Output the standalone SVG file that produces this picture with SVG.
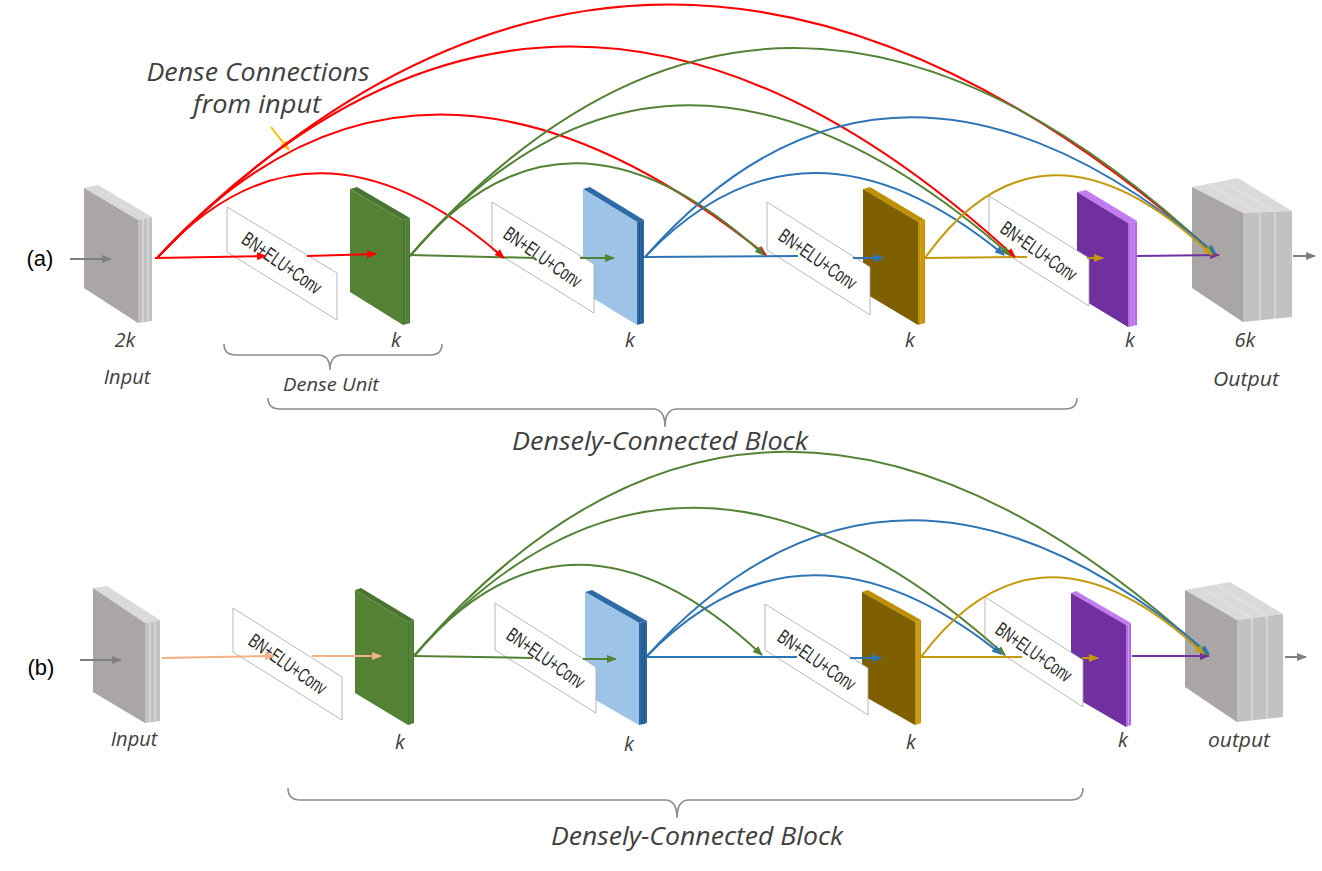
<svg xmlns="http://www.w3.org/2000/svg" width="1322" height="871" viewBox="0 0 1322 871">
<style>
.lbl{font-family:"Open Sans","Liberation Sans",sans-serif;font-style:italic;fill:#404040;text-anchor:middle}
.tag{font-family:"Liberation Sans",Arial,sans-serif;font-size:22px;fill:#000;text-anchor:middle}
.box{fill:#fff;stroke:#a6a6a6;stroke-width:0.8}
.bt{font-family:"Liberation Sans",Arial,sans-serif;font-size:20px;fill:#2a2a2a;text-anchor:middle;dominant-baseline:central}
.ln{fill:none;stroke-width:2}
.arc{fill:none;stroke-width:2}
.brace{fill:none;stroke:#8c8c8c;stroke-width:1.6}
.gf{fill:#a9a6a5}.gt{fill:#dadada}.gs{fill:#c2c2c2}.gl{stroke:#e6e6e6;stroke-width:1}
</style>
<defs>
<marker id="hR" viewBox="0 0 10 8" refX="9" refY="4" markerWidth="10" markerHeight="8" markerUnits="userSpaceOnUse" orient="auto"><path d="M0,0 L10,4 L0,8 z" fill="#ff0000"/></marker>
<marker id="hG" viewBox="0 0 10 8" refX="9" refY="4" markerWidth="10" markerHeight="8" markerUnits="userSpaceOnUse" orient="auto"><path d="M0,0 L10,4 L0,8 z" fill="#548235"/></marker>
<marker id="hB" viewBox="0 0 10 8" refX="9" refY="4" markerWidth="10" markerHeight="8" markerUnits="userSpaceOnUse" orient="auto"><path d="M0,0 L10,4 L0,8 z" fill="#2e75b6"/></marker>
<marker id="hY" viewBox="0 0 10 8" refX="9" refY="4" markerWidth="10" markerHeight="8" markerUnits="userSpaceOnUse" orient="auto"><path d="M0,0 L10,4 L0,8 z" fill="#c39a0c"/></marker>
<marker id="hP" viewBox="0 0 10 8" refX="9" refY="4" markerWidth="10" markerHeight="8" markerUnits="userSpaceOnUse" orient="auto"><path d="M0,0 L10,4 L0,8 z" fill="#7030a0"/></marker>
<marker id="hO" viewBox="0 0 10 8" refX="9" refY="4" markerWidth="10" markerHeight="8" markerUnits="userSpaceOnUse" orient="auto"><path d="M0,0 L10,4 L0,8 z" fill="#f4b183"/></marker>
<marker id="hK" viewBox="0 0 10 8" refX="9" refY="4" markerWidth="10" markerHeight="8" markerUnits="userSpaceOnUse" orient="auto"><path d="M0,0 L10,4 L0,8 z" fill="#7f7f7f"/></marker>
<marker id="hX" viewBox="0 0 10 8" refX="9" refY="4" markerWidth="10" markerHeight="8" markerUnits="userSpaceOnUse" orient="auto"><path d="M0,0 L10,4 L0,8 z" fill="#ffc000"/></marker>
</defs>

<!-- ===== Panel (a) ===== -->
<text class="tag" x="40" y="266">(a)</text>

<g id="a-input">
<polygon class="gt" points="84,188 98,185 152,217 138,220"/>
<polygon class="gs" points="138,220 152,217 152,321 138,323"/>
<line class="gl" x1="143" y1="219" x2="143" y2="322.5"/><line class="gl" x1="148" y1="218" x2="148" y2="322"/>
<polygon class="gf" points="84,188 138,220 138,323 84,288"/>
<text class="lbl" x="125" y="347" font-size="20">2k</text>
<text class="lbl" x="127" y="384" font-size="20">Input</text>
</g>

<g id="a-k1">
<polygon fill="#4a7530" points="350,189 357,187 410,218 403,220"/>
<polygon fill="#4a7530" points="403,220 410,218 410,323 403,325"/>
<line stroke="#6b9a4c" stroke-width="0.8" x1="405.5" y1="219" x2="405.5" y2="324"/><line stroke="#6b9a4c" stroke-width="0.8" x1="408" y1="218.5" x2="408" y2="323.5"/>
<polygon fill="#548235" points="350,189 403,220 403,325 350,292"/>
<text class="lbl" x="396" y="347" font-size="20">k</text>
</g>

<g id="a-k2">
<polygon fill="#2e6aa6" points="583,189 590,187 644,220 637,222"/>
<polygon fill="#2e6aa6" points="637,222 644,220 644,323 637,325"/>
<line stroke="#1f4e79" stroke-width="0.8" x1="639.5" y1="221" x2="639.5" y2="324"/><line stroke="#1f4e79" stroke-width="0.8" x1="642" y1="220.5" x2="642" y2="323.5"/>
<polygon fill="#9dc3e6" points="583,189 637,222 637,325 583,292"/>
<text class="lbl" x="630" y="347" font-size="20">k</text>
</g>

<g id="a-k3">
<polygon fill="#bf9000" points="863,189 870,187 925,220 918,222"/>
<polygon fill="#bf9000" points="918,222 925,220 925,323 918,325"/>
<line stroke="#e0b030" stroke-width="0.8" x1="920.5" y1="221" x2="920.5" y2="324"/><line stroke="#e0b030" stroke-width="0.8" x1="923" y1="220.5" x2="923" y2="323.5"/>
<polygon fill="#7f6000" points="863,189 918,222 918,325 863,292"/>
<text class="lbl" x="910" y="347" font-size="20">k</text>
</g>

<g id="a-k4">
<polygon fill="#c27cf0" points="1077,192 1086,190 1137,221 1128,223"/>
<polygon fill="#b76ae6" points="1128,223 1137,221 1137,325 1128,327"/>
<line stroke="#d7a3f7" stroke-width="0.8" x1="1131" y1="222.5" x2="1131" y2="326.5"/><line stroke="#d7a3f7" stroke-width="0.8" x1="1134" y1="222" x2="1134" y2="326"/>
<polygon fill="#7030a0" points="1077,192 1128,223 1128,327 1077,296"/>
<text class="lbl" x="1130" y="347" font-size="20">k</text>
</g>

<g id="a-output">
<polygon class="gt" points="1192,187 1238,178 1292,211 1243,213"/>
<line class="gl" x1="1208" y1="184" x2="1260" y2="212.5"/><line class="gl" x1="1223" y1="181" x2="1275" y2="212"/>
<polygon class="gs" points="1243,213 1292,211 1292,317 1243,322"/>
<line stroke="#e2e2e2" stroke-width="1.2" x1="1260" y1="212.5" x2="1260" y2="320"/><line stroke="#e2e2e2" stroke-width="1.2" x1="1275" y1="212" x2="1275" y2="319"/>
<polygon class="gf" points="1192,187 1243,213 1243,322 1192,288"/>
<text class="lbl" x="1245" y="347" font-size="20">6k</text>
<text class="lbl" x="1246" y="386" font-size="20" textLength="66" lengthAdjust="spacingAndGlyphs">Output</text>
</g>

<g id="a-unit1"><polygon class="box" points="227,207 337,273 337,320 227,252"/><text class="bt" textLength="92" lengthAdjust="spacingAndGlyphs" transform="translate(282,263) rotate(35)">BN+ELU+Conv</text></g>
<g id="a-unit2"><polygon class="box" points="492,202 594,264 594,313 492,250"/><text class="bt" textLength="90" lengthAdjust="spacingAndGlyphs" transform="translate(543,257) rotate(35)">BN+ELU+Conv</text></g>
<g id="a-unit3"><polygon class="box" points="767,202 870,267 870,315 767,250"/><text class="bt" textLength="90" lengthAdjust="spacingAndGlyphs" transform="translate(818,259) rotate(35)">BN+ELU+Conv</text></g>
<g id="a-unit4"><polygon class="box" points="989,196 1089,258 1089,306 989,243"/><text class="bt" textLength="88" lengthAdjust="spacingAndGlyphs" transform="translate(1039,251) rotate(35)">BN+ELU+Conv</text></g>

<g id="a-labels">
<text class="lbl" x="258" y="81" font-size="25" textLength="223" lengthAdjust="spacingAndGlyphs">Dense Connections</text>
<text class="lbl" x="257" y="113" font-size="25" textLength="128" lengthAdjust="spacingAndGlyphs">from input</text>
<text class="lbl" x="331" y="391" font-size="18" textLength="96" lengthAdjust="spacingAndGlyphs">Dense Unit</text>
<text class="lbl" x="660" y="450" font-size="25" textLength="296" lengthAdjust="spacingAndGlyphs">Densely-Connected Block</text>
<path class="brace" d="M224,344 Q224,355 236,355 L318,355 Q330,355 330,370 Q330,355 342,355 L430,355 Q442,355 442,344"/>
<path class="brace" d="M268,398 Q268,409 280,409 L653,409 Q665,409 665,427 Q665,409 677,409 L1065,409 Q1077,409 1077,398"/>
</g>

<g id="a-connectors">
<line class="ln" stroke="#7f7f7f" x1="70" y1="259" x2="111" y2="259" marker-end="url(#hK)"/>
<line class="ln" stroke="#ff0000" x1="155" y1="258" x2="266" y2="256" marker-end="url(#hR)"/>
<line class="ln" stroke="#ff0000" x1="307" y1="256" x2="376" y2="254" marker-end="url(#hR)"/>
<line class="ln" stroke="#548235" x1="410" y1="255" x2="535" y2="258"/>
<line class="ln" stroke="#548235" x1="580" y1="258" x2="614" y2="258" marker-end="url(#hG)"/>
<line class="ln" stroke="#2e75b6" x1="644" y1="257" x2="798" y2="256"/>
<line class="ln" stroke="#2e75b6" x1="853" y1="258" x2="883" y2="258" marker-end="url(#hB)"/>
<line class="ln" stroke="#c39a0c" x1="925" y1="258" x2="1027" y2="257"/>
<line class="ln" stroke="#c39a0c" x1="1087" y1="258" x2="1103" y2="258" marker-end="url(#hY)"/>
<line class="ln" stroke="#7030a0" x1="1137" y1="256" x2="1219" y2="255" marker-end="url(#hP)"/>
<line class="ln" stroke="#7f7f7f" x1="1293" y1="256" x2="1315" y2="256" marker-end="url(#hK)"/>
<line class="ln" stroke="#ffc000" x1="271" y1="127" x2="289" y2="150" marker-end="url(#hX)"/>
<!-- red dense arcs from input -->
<path class="arc" stroke="#ff0000" stroke-width="2.3" d="M158,257 Q311,89 504,258" marker-end="url(#hR)"/>
<path class="arc" stroke="#ff0000" stroke-width="2.3" d="M158,257 Q416,-27 766,255" marker-end="url(#hR)"/>
<path class="arc" stroke="#ff0000" stroke-width="2.3" d="M158,257 Q556,-164 1015,257" marker-end="url(#hR)"/>
<path class="arc" stroke="#ff0000" stroke-width="2.3" d="M158,257 Q650,-247 1216,255" marker-end="url(#hR)"/>
<!-- green -->
<path class="arc" stroke="#548235" d="M410,256 Q563,71 764,255" marker-end="url(#hG)"/>
<path class="arc" stroke="#548235" d="M410,256 Q668,-45 1010,255" marker-end="url(#hG)"/>
<path class="arc" stroke="#548235" d="M410,256 Q774,-159 1214,254" marker-end="url(#hG)"/>
<!-- blue -->
<path class="arc" stroke="#2e75b6" d="M645,257 Q804,90 1004,255" marker-end="url(#hB)"/>
<path class="arc" stroke="#2e75b6" d="M645,257 Q890,-21 1216,254" marker-end="url(#hB)"/>
<!-- gold -->
<path class="arc" stroke="#c39a0c" d="M925,258 Q1042,94 1212,255" marker-end="url(#hY)"/>
</g>

<!-- ===== Panel (b) ===== -->
<text class="tag" x="41" y="675">(b)</text>

<g id="b-input">
<polygon class="gt" points="93,588 107,586 160,620 145,623"/>
<polygon class="gs" points="145,623 160,620 160,721 145,723"/>
<line class="gl" x1="150" y1="622" x2="150" y2="722.5"/><line class="gl" x1="155" y1="621" x2="155" y2="722"/>
<polygon class="gf" points="93,588 145,623 145,723 93,692"/>
<text class="lbl" x="134" y="746" font-size="20">Input</text>
</g>

<g id="b-k1">
<polygon fill="#4a7530" points="355,590 361,588 414,620 408,622"/>
<polygon fill="#4a7530" points="408,622 414,620 414,723 408,725"/>
<line stroke="#6b9a4c" stroke-width="0.8" x1="410" y1="621.5" x2="410" y2="724.5"/><line stroke="#6b9a4c" stroke-width="0.8" x1="412" y1="621" x2="412" y2="724"/>
<polygon fill="#548235" points="355,590 408,622 408,725 355,693"/>
<text class="lbl" x="400" y="749" font-size="20">k</text>
</g>

<g id="b-k2">
<polygon fill="#2e6aa6" points="585,592 592,590 647,621 639,623"/>
<polygon fill="#2e6aa6" points="639,623 647,621 647,723 639,725"/>
<line stroke="#1f4e79" stroke-width="0.8" x1="642" y1="622.5" x2="642" y2="724.5"/><line stroke="#1f4e79" stroke-width="0.8" x1="644.5" y1="622" x2="644.5" y2="724"/>
<polygon fill="#9dc3e6" points="585,592 639,623 639,725 585,694"/>
<text class="lbl" x="629" y="751" font-size="20">k</text>
</g>

<g id="b-k3">
<polygon fill="#bf9000" points="862,592 868,590 921,620 915,622"/>
<polygon fill="#bf9000" points="915,622 921,620 921,723 915,725"/>
<line stroke="#e0b030" stroke-width="0.8" x1="917" y1="621.5" x2="917" y2="724.5"/><line stroke="#e0b030" stroke-width="0.8" x1="919" y1="621" x2="919" y2="724"/>
<polygon fill="#7f6000" points="862,592 915,622 915,725 862,695"/>
<text class="lbl" x="911" y="749" font-size="20">k</text>
</g>

<g id="b-k4">
<polygon fill="#c27cf0" points="1071,593 1076,591 1131,623 1126,625"/>
<polygon fill="#b76ae6" points="1126,625 1131,623 1131,725 1126,727"/>
<line stroke="#d7a3f7" stroke-width="0.8" x1="1128.5" y1="624" x2="1128.5" y2="726"/>
<polygon fill="#7030a0" points="1071,593 1126,625 1126,727 1071,695"/>
<text class="lbl" x="1123" y="747" font-size="20">k</text>
</g>

<g id="b-output">
<polygon class="gt" points="1185,590 1230,582 1283,614 1237,620"/>
<line class="gl" x1="1200" y1="587" x2="1252" y2="618"/><line class="gl" x1="1215" y1="584.5" x2="1267" y2="616"/>
<polygon class="gs" points="1237,620 1283,614 1283,717 1237,722"/>
<line stroke="#e2e2e2" stroke-width="1.2" x1="1252" y1="618" x2="1252" y2="720.5"/><line stroke="#e2e2e2" stroke-width="1.2" x1="1267" y1="616" x2="1267" y2="719"/>
<polygon class="gf" points="1185,590 1237,620 1237,722 1185,687"/>
<text class="lbl" x="1239" y="747" font-size="20" textLength="62" lengthAdjust="spacingAndGlyphs">output</text>
</g>

<g id="b-unit1"><polygon class="box" points="233,608 342,677 342,720 233,652"/><text class="bt" textLength="90" lengthAdjust="spacingAndGlyphs" transform="translate(288,664) rotate(35)">BN+ELU+Conv</text></g>
<g id="b-unit2"><polygon class="box" points="495,603 596,667 596,713 495,650"/><text class="bt" textLength="90" lengthAdjust="spacingAndGlyphs" transform="translate(546,658) rotate(35)">BN+ELU+Conv</text></g>
<g id="b-unit3"><polygon class="box" points="765,604 868,668 868,715 765,650"/><text class="bt" textLength="90" lengthAdjust="spacingAndGlyphs" transform="translate(817,660) rotate(35)">BN+ELU+Conv</text></g>
<g id="b-unit4"><polygon class="box" points="985,597 1083,660 1083,707 985,643"/><text class="bt" textLength="88" lengthAdjust="spacingAndGlyphs" transform="translate(1034,652) rotate(35)">BN+ELU+Conv</text></g>

<g id="b-labels">
<text class="lbl" x="697" y="845" font-size="25" textLength="292" lengthAdjust="spacingAndGlyphs">Densely-Connected Block</text>
<path class="brace" d="M288,788 Q288,800 300,800 L665,800 Q677,800 677,818 Q677,800 689,800 L1071,800 Q1083,800 1083,788"/>
</g>

<g id="b-connectors">
<line class="ln" stroke="#7f7f7f" x1="80" y1="660" x2="121" y2="660" marker-end="url(#hK)"/>
<line class="ln" stroke="#f4b183" x1="162" y1="658" x2="274" y2="656" marker-end="url(#hO)"/>
<line class="ln" stroke="#f4b183" x1="312" y1="656" x2="381" y2="656" marker-end="url(#hO)"/>
<line class="ln" stroke="#548235" x1="414" y1="656" x2="533" y2="658"/>
<line class="ln" stroke="#548235" x1="583" y1="659" x2="616" y2="659" marker-end="url(#hG)"/>
<line class="ln" stroke="#2e75b6" x1="647" y1="657" x2="797" y2="657"/>
<line class="ln" stroke="#2e75b6" x1="850" y1="658" x2="881" y2="658" marker-end="url(#hB)"/>
<line class="ln" stroke="#c39a0c" x1="921" y1="657" x2="1022" y2="657"/>
<line class="ln" stroke="#c39a0c" x1="1082" y1="658" x2="1098" y2="658" marker-end="url(#hY)"/>
<line class="ln" stroke="#7030a0" x1="1132" y1="656" x2="1209" y2="656" marker-end="url(#hP)"/>
<line class="ln" stroke="#7f7f7f" x1="1285" y1="657" x2="1306" y2="657" marker-end="url(#hK)"/>
<path class="arc" stroke="#548235" d="M414,656 Q569,474 762,655" marker-end="url(#hG)"/>
<path class="arc" stroke="#548235" d="M414,656 Q677,360 1005,655" marker-end="url(#hG)"/>
<path class="arc" stroke="#548235" d="M414,656 Q764,248 1208,655" marker-end="url(#hG)"/>
<path class="arc" stroke="#2e75b6" d="M646,657 Q803,495 1001,654" marker-end="url(#hB)"/>
<path class="arc" stroke="#2e75b6" d="M646,657 Q893,385 1209,654" marker-end="url(#hB)"/>
<path class="arc" stroke="#c39a0c" d="M921,657 Q1039,499 1204,654" marker-end="url(#hY)"/>
</g>
</svg>
